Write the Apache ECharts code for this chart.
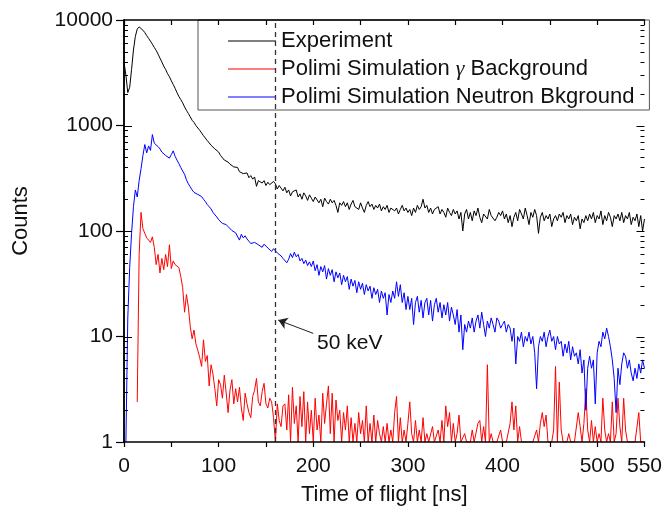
<!DOCTYPE html>
<html>
<head>
<meta charset="utf-8">
<script src="https://cdn.jsdelivr.net/npm/echarts@6/dist/echarts.min.js"></script>
<style>html,body{margin:0;padding:0;background:#fff;}#c{width:665px;height:515px;}</style>
</head>
<body>
<div id="c"></div>
<script>
// Time-of-flight bins (ns): start and bin width
const tofStart = 0;
const tofStep = 2;

const seriesNames = ['Experiment', 'Polimi Simulation γ Background', 'Polimi Simulation Neutron Bkground'];

const experiment = [
4000,3000,2050,2300,3400,5200,7000,8200,8600,8400,8000,7600,7100,6700,6300,5900,5500,5150,4750,4350,
4000,3650,3400,3100,2900,2650,2450,2250,2050,1880,1760,1640,1500,1390,1300,1210,1120,1070,1000,960,
900,850,800,770,720,700,650,630,600,575,560,520,505,470,485,450,430,440,405,390,
400,365,380,350,340,355,320,335,310,325,265,300,310,285,300,270,290,275,265,295,
280,250,270,255,240,260,230,245,215,235,225,245,210,225,200,230,215,195,220,205,
190,210,215,185,200,170,205,190,180,200,185,195,175,150,185,175,190,170,185,160,
180,195,170,175,160,185,165,150,175,190,170,180,160,175,165,180,155,170,160,175,
150,165,170,155,165,145,160,175,155,165,150,160,140,165,150,175,160,170,200,165,
175,150,165,145,160,155,170,145,160,150,135,165,150,140,160,145,155,130,150,100,
145,160,130,150,125,155,140,165,135,120,145,150,130,160,140,145,125,135,150,140,
155,130,145,120,140,110,135,150,125,160,145,130,165,140,115,150,135,160,140,95,
135,150,125,140,130,145,110,130,140,125,145,135,150,120,140,130,145,115,135,125,
140,105,130,120,140,125,145,130,150,120,140,130,155,115,140,125,150,135,110,140,
130,145,125,150,120,140,130,150,115,135,125,145,110,140,100,130
];

const gammaBkg = [
null,null,null,null,null,null,null,2.4,60,150,105,95,86,82,78,88,70,48,60,40,
55,43,60,46,74,44,52,48,50,45,37,29,17,25,19,12.5,9.5,11.5,8.5,7.4,
6.3,5.2,9.3,5.8,6.6,3.4,5.4,4.4,3.2,2.2,3.9,3.5,2.6,4.3,2.9,1.9,3.1,3.9,2.3,3.2,
2.4,3.3,2.1,1.6,2.9,2.3,1.9,1.7,2.7,3.1,4.0,2.4,2.2,3.0,3.6,2.3,2.1,2.6,2.4,1.7,
1,2.3,1.6,1.4,2.2,2.3,1.3,2.8,1,3.3,1.5,2.2,1,2.7,1.4,3.0,1,2.4,1.2,2.0,
1,2.6,1.3,1.8,1,2.9,1.5,2.3,3.4,1.2,2.9,1,2.5,1.6,2.0,1,1.9,1.3,2.2,1,
1.7,1,1.5,1,1.9,1.2,1.6,1,2.2,1,1.5,1,1.8,1,1.6,1.2,1,1.4,1,1.5,
1,1.3,1,1.9,2.7,1,1.7,1,1.3,1,1.5,2.4,1.2,1,1.6,1,1.3,1,1.7,1,
1.2,1,1,1.4,1,1,1.3,1,1.6,1,2.2,1.4,1.9,1,1.5,1,1.2,1.8,1,1,
1.2,1,1,1,1.3,1,1,1.5,1.6,1,1.4,1,5.4,1,1.2,1,1,1,1,1.3,
1,1,1,1,1.5,2.4,1.3,2.2,1,1.4,1,1,1,1,1,1,1,1,1.3,1,
1.5,1.9,1.4,1.8,1,1,1,1.3,5.2,1,3.7,1.3,1,1,1,1.2,1,1,1,1,
1.9,1.4,1,1.5,3.2,1.3,1,1.6,1,1.4,1,1.2,1,2.6,1.3,1,1.2,1,2.4,1,
1.2,2.6,1.4,1,2.6,1.3,1,1,1,1,1,1,1.9,1,1,1
];

const neutronBkg = [
null,1,15,45,95,170,245,210,300,390,520,660,550,640,580,820,680,710,630,600,
560,545,520,505,490,530,575,510,470,435,400,370,345,305,280,262,245,232,240,222,
230,212,200,190,178,170,162,150,145,136,128,124,118,121,115,110,106,101,104,96,
100,82,93,86,90,84,80,76,73,78,81,74,77,70,75,72,69,67,64,68,
66,62,64,58,55,53,50,54,61,56,63,57,60,52,55,49,53,47,51,46,
52,42,48,38,46,41,47,35,44,38,43,33,41,36,40,31,38,33,37,28,
35,30,34,26,33,28,32,25,31,27,30,23,29,25,28,21,27,23,26,16,
25,21,27,23,33,24,31,21,26,18,24,18,23,13,21,24,17,22,15,21,
23,16,22,14,20,23,17,21,15,20,16,21,14,19,16,13,18,11,16,7.5,
13,11,14,12,15,11,14,16,12,17,13,10,14,12,15,13,11,15,14,12,
13,14,11,13,12,9,12,5.5,10,9,11,8,10,9,11,8.5,10,7,3.2,8,
10,9,11,8,10,11.5,9,10,7.5,10,8.5,9,6.5,8.5,7,9,6,8,6.5,7,
5.5,7.5,4.5,6,2,5,6.5,5,6,2.3,7,9,8,11,9.5,12,10,8,6,4,
1.9,5,3.5,5.5,7,6.5,5,6,4.5,3.8,5,4,5.5,4.5,6,5
];

const xTickLabels = [0, 100, 200, 300, 400, 500, 550];
const yTickLabels = [1, 10, 100, 1000, 10000];
const minorLogTicks = [2,3,4,5,6,7,8,9,20,30,40,50,60,70,80,90,200,300,400,500,600,700,800,900,2000,3000,4000,5000,6000,7000,8000,9000];

const markerEnergyTof = 160;    // 50 keV marker
const arrowFrom = [200, 10.7];
const arrowTo = [163, 14.3];
const arrowText = '50 keV';
const arrowTextAt = [203.5, 8.6];

function pairs(arr) {
  return arr.map((v, i) => [tofStart + i * tofStep, v]);
}

const FONT = 'Liberation Sans, Arial, sans-serif';
const chart = echarts.init(document.getElementById('c'), null, {renderer: 'canvas'});

const axisLine = {show: true, lineStyle: {color: '#000', width: 1.5}};

// inside ticks on left/right frame, positions from the y scale
function tickSeries(values, len) {
  return {
    type: 'custom', xAxisIndex: 0, yAxisIndex: 0, silent: true, z: 10, clip: false,
    data: values.map(v => [0, v]),
    renderItem: function (params, api) {
      const v = api.value(1);
      const pl = api.coord([0, v]);
      const pr = api.coord([550, v]);
      const y = Math.round(pl[1]) + 0.5;
      return {
        type: 'group',
        children: [
          {type: 'line', shape: {x1: pl[0], y1: y, x2: pl[0] + len, y2: y}, style: {stroke: '#000', lineWidth: 1}},
          {type: 'line', shape: {x1: pr[0] - len, y1: y, x2: pr[0], y2: y}, style: {stroke: '#000', lineWidth: 1}}
        ]
      };
    }
  };
}

chart.setOption({
  animation: false,
  backgroundColor: '#fff',
  grid: {left: 124, right: 20, top: 20, bottom: 73, containLabel: false},
  legend: {
    orient: 'vertical',
    left: 198,
    top: 20,
    itemWidth: 48,
    itemHeight: 14,
    itemGap: 6,
    padding: [10, 15, 2, 30],
    backgroundColor: '#fff',
    borderColor: '#555',
    borderWidth: 1,
    borderRadius: 0,
    data: seriesNames.map(n => ({name: n, icon: 'path://M0,0 L48,0 L48,1 L0,1 Z'})),
    formatter: function (name) {
      return name.replace('γ', '{g|γ}');
    },
    textStyle: {
      fontFamily: FONT, fontSize: 22, color: '#111',
      rich: {g: {fontFamily: 'Liberation Serif, DejaVu Serif, serif', fontSize: 22, fontStyle: 'italic', color: '#111'}}
    }
  },
  xAxis: [
    {
      type: 'value', position: 'bottom', min: 0, max: 550, interval: 50, z: 10,
      axisLine: axisLine,
      axisTick: {show: true, inside: false, length: 5, lineStyle: {color: '#000', width: 1.2}},
      axisLabel: {
        margin: 14, fontFamily: FONT, fontSize: 21, color: '#111',
        formatter: v => (xTickLabels.indexOf(v) >= 0 ? String(v) : '')
      },
      splitLine: {show: false},
      name: 'Time of flight [ns]', nameLocation: 'middle', nameGap: 42,
      nameTextStyle: {fontFamily: FONT, fontSize: 22, color: '#111'}
    },
    {
      type: 'value', position: 'top', min: 0, max: 550, interval: 50, z: 10,
      axisLine: axisLine,
      axisTick: {show: true, inside: true, length: 5, lineStyle: {color: '#000', width: 1.2}},
      axisLabel: {show: false},
      splitLine: {show: false}
    }
  ],
  yAxis: [
    {
      type: 'log', logBase: 10, min: 1, max: 10000, interval: 1, position: 'left', z: 10,
      axisLine: axisLine,
      axisTick: {show: true, inside: false, length: 8, lineStyle: {color: '#000', width: 1.2}},
      axisLabel: {
        margin: 11, fontFamily: FONT, fontSize: 21, color: '#111',
        formatter: v => String(Math.round(v))
      },
      splitLine: {show: false},
      name: 'Counts', nameLocation: 'middle', nameGap: 92,
      nameTextStyle: {fontFamily: FONT, fontSize: 22, color: '#111', padding: [0, 0, 0, 20]}
    },
    {
      type: 'log', logBase: 10, min: 1, max: 10000, interval: 1, position: 'right', z: 10,
      axisLine: axisLine,
      axisTick: {show: false},
      axisLabel: {show: false},
      splitLine: {show: false}
    }
  ],
  series: [
    {
      name: seriesNames[0], type: 'line', data: pairs(experiment),
      symbol: 'none', clip: true, connectNulls: false,
      lineStyle: {color: '#000', width: 1}, itemStyle: {color: '#000'},
      markLine: {
        silent: true, symbol: ['none', 'none'],
        label: {show: false},
        lineStyle: {color: '#333', width: 1.3, type: [5, 4]},
        data: [{xAxis: markerEnergyTof}]
      }
    },
    {
      name: seriesNames[1], type: 'line', data: pairs(gammaBkg),
      symbol: 'none', clip: true, connectNulls: false,
      lineStyle: {color: '#ff0000', width: 1}, itemStyle: {color: '#ff0000'},
      markLine: {
        silent: true, symbol: ['none', 'arrow'], symbolSize: 9,
        label: {show: false},
        lineStyle: {color: '#222', width: 1, type: 'solid'},
        data: [[{coord: arrowFrom}, {coord: arrowTo}]]
      },
      markPoint: {
        silent: true, symbol: 'circle', symbolSize: 1,
        itemStyle: {color: 'rgba(0,0,0,0)'},
        label: {show: true, position: 'right', distance: 0, formatter: arrowText,
                fontFamily: FONT, fontSize: 21, color: '#111'},
        data: [{coord: arrowTextAt}]
      }
    },
    {
      name: seriesNames[2], type: 'line', data: pairs(neutronBkg),
      symbol: 'none', clip: true, connectNulls: false,
      lineStyle: {color: '#0000ff', width: 1}, itemStyle: {color: '#0000ff'}
    },
    tickSeries(minorLogTicks, 4),
    tickSeries(yTickLabels.slice(1, 4), 8)
  ]
});
</script>
</body>
</html>
